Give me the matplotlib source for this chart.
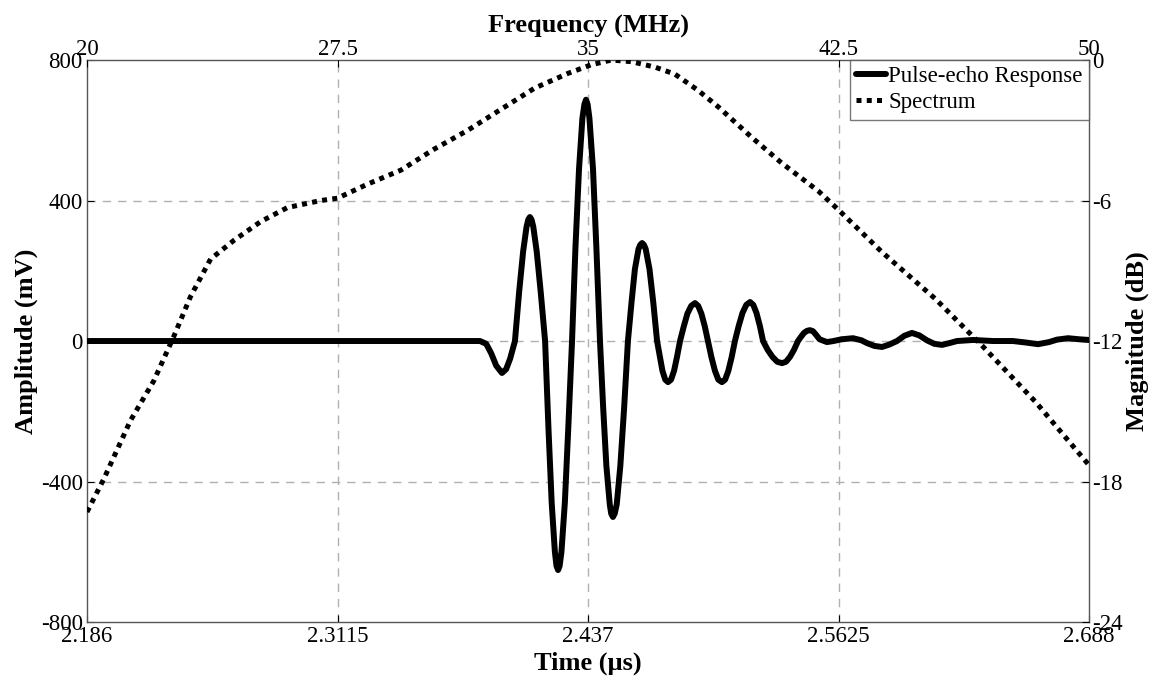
import matplotlib
matplotlib.use("Agg")
import matplotlib.pyplot as plt

plt.rcParams["font.family"] = ["Liberation Serif", "DejaVu Serif"]
plt.rcParams["axes.unicode_minus"] = False

# pulse-echo response (time in us, amplitude in mV)
time_us = [2.186, 2.250, 2.320, 2.3829, 2.3860, 2.3885, 2.3910, 2.3939, 2.3960, 2.3980, 2.4004,
           2.4025, 2.4045, 2.4062, 2.4071, 2.4079, 2.4087, 2.4096, 2.4113, 2.4133, 2.4155,
           2.4172, 2.4188, 2.4204, 2.4212, 2.4220, 2.4228, 2.4237, 2.4254, 2.4271, 2.4290,
           2.4307, 2.4325, 2.4342, 2.4352, 2.4360, 2.4368, 2.4377, 2.4395, 2.4412, 2.4430,
           2.4446, 2.4462, 2.4479, 2.4486, 2.4495, 2.4504, 2.4514, 2.4532, 2.4551, 2.4570,
           2.4588, 2.4605, 2.4623, 2.4632, 2.4641, 2.4650, 2.4659, 2.4678, 2.4697, 2.4716,
           2.4730, 2.4743, 2.4757, 2.4771, 2.4786, 2.4801, 2.4816, 2.4831,
           2.4850, 2.4868, 2.4887, 2.4906, 2.4922, 2.4938, 2.4955, 2.4971,
           2.4988, 2.5006, 2.5023, 2.5041, 2.5057, 2.5073, 2.5090, 2.5106,
           2.5125, 2.5144, 2.5163, 2.5182, 2.5198, 2.5214, 2.5231, 2.5247,
           2.5270, 2.5294, 2.5318, 2.5342, 2.5362, 2.5382, 2.5402, 2.5422,
           2.5437, 2.5452, 2.5467, 2.5482, 2.5497, 2.5512, 2.5530, 2.5567,
           2.5600, 2.5640, 2.5698, 2.5740, 2.5768, 2.5805, 2.5843, 2.5880,
           2.5918, 2.5955, 2.5993, 2.6030, 2.6068, 2.6105, 2.6144, 2.6180,
           2.6219, 2.6299, 2.6399, 2.6499, 2.6560, 2.6625, 2.6680, 2.6720,
           2.6775, 2.6830, 2.688]
amp_mv = [0, 0, 0, 0, -8, -35, -70, -91, -80, -50, 0,
          140, 255, 325, 346, 353, 346, 325, 255, 140, 0,
          -250, -460, -600, -640, -652, -640, -600, -460, -250, 0,
          265, 490, 635, 674, 687, 674, 635, 490, 265, 0,
          -190, -355, -465, -491, -501, -491, -465, -355, -190, 0,
          110, 205, 262, 274, 279, 274, 262, 205, 110, 0,
          -45, -85, -110, -117, -110, -85, -45, 0,
          42, 78, 100, 108, 100, 78, 42, 0,
          -45, -85, -110, -117, -110, -85, -45, 0,
          43, 80, 103, 111, 103, 80, 43, 0,
          -25, -45, -59, -63, -59, -45, -25, 0,
          12, 23, 29, 31, 28, 18, 5, -3,
          0, 5, 8, 2, -6, -14, -17, -10,
          0, 15, 23, 16, 2, -8, -11, -6,
          0, 3, 0, 0, -4, -9, -3, 4,
          8, 5, 3]

# spectrum (frequency in MHz, magnitude in dB)
freq_mhz = [20.0, 20.5, 21.3, 22.0, 22.6, 23.1, 23.7, 24.4, 25.2, 26.0, 27.0, 27.5,
            28.4, 29.4, 30.4, 31.4, 32.4, 33.4, 34.4, 35.1, 35.7, 36.3, 37.0, 37.6,
            38.3, 38.9, 39.9, 40.8, 41.9, 42.5, 43.8, 45.4, 46.8, 48.4, 50.0]
mag_db = [-19.3, -17.9, -15.4, -13.7, -11.8, -10.1, -8.5, -7.7, -6.9, -6.3, -6.0, -5.9,
          -5.3, -4.7, -3.8, -3.0, -2.1, -1.2, -0.57, -0.2, 0.0, -0.07, -0.3, -0.6,
          -1.3, -2.0, -3.3, -4.4, -5.6, -6.4, -8.2, -10.2, -12.2, -14.6, -17.3]

time_ticks = [2.186, 2.3115, 2.437, 2.5625, 2.688]
time_labels = ["2.186", "2.3115", "2.437", "2.5625", "2.688"]
amp_ticks = [-800, -400, 0, 400, 800]
freq_ticks = [20, 27.5, 35, 42.5, 50]
freq_labels = ["20", "27.5", "35", "42.5", "50"]
db_ticks = [-24, -18, -12, -6, 0]

fig = plt.figure(figsize=(11.6, 6.83), dpi=100)
pos = [0.075, 0.0893, 0.8638, 0.8228]
ax = fig.add_axes(pos)
ax2 = fig.add_axes(pos, frameon=False)

tick_fs = 16.5
label_fs = 19

grid_kw = dict(color="#b0b0b0", linestyle=(0, (6, 5)), linewidth=1.0)
for t in time_ticks[1:-1]:
    ax.axvline(t, zorder=0, **grid_kw)
for a in amp_ticks[1:-1]:
    ax.axhline(a, zorder=0, **grid_kw)

ln1, = ax.plot(time_us, amp_mv, color="black", linewidth=4.3, solid_joinstyle="round",
               solid_capstyle="round", label="Pulse-echo Response", zorder=3)
ax.set_xlim(2.186, 2.688)
ax.set_ylim(-800, 800)
ax.set_xticks(time_ticks)
ax.set_xticklabels(time_labels)
ax.set_yticks(amp_ticks)
ax.tick_params(direction="in", labelsize=tick_fs, length=5, pad=3, top=False, right=False)
ax.set_xlabel("Time (µs)", fontsize=label_fs, fontweight="bold", labelpad=3)
ax.set_ylabel("Amplitude (mV)", fontsize=label_fs, fontweight="bold", labelpad=2)
for s in ax.spines.values():
    s.set_color("#555555")
    s.set_linewidth(1.0)

ln2, = ax2.plot(freq_mhz, mag_db, color="black", linewidth=3.6, linestyle=(0, (1, 1.05)),
                label="Spectrum", zorder=4)
ax2.set_xlim(20, 50)
ax2.set_ylim(-24, 0)
ax2.xaxis.tick_top()
ax2.xaxis.set_label_position("top")
ax2.yaxis.tick_right()
ax2.yaxis.set_label_position("right")
ax2.set_xticks(freq_ticks)
ax2.set_xticklabels(freq_labels)
ax2.set_yticks(db_ticks)
ax2.tick_params(direction="in", labelsize=tick_fs, length=5, pad=2)
ax2.tick_params(axis="x", pad=0)
ax2.set_xlabel("Frequency (MHz)", fontsize=label_fs, fontweight="bold", labelpad=5)
ax2.set_ylabel("Magnitude (dB)", fontsize=label_fs, fontweight="bold", labelpad=2)
ax2.patch.set_visible(False)

leg = ax2.legend([ln1, ln2], ["Pulse-echo Response", "Spectrum"], loc="upper right",
                 fontsize=tick_fs, frameon=True, fancybox=False, borderaxespad=0,
                 handlelength=1.3, handletextpad=0.1, borderpad=0.28, labelspacing=0.2)
leg.get_frame().set_edgecolor("#555555")
leg.get_frame().set_linewidth(1.0)

fig.savefig("out.png", dpi=100)
